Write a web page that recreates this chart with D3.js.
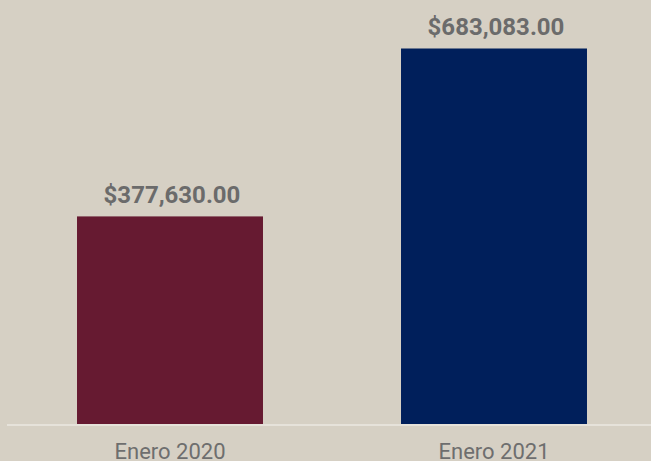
<!DOCTYPE html>
<html>
<head>
<meta charset="utf-8">
<script src="https://cdn.jsdelivr.net/npm/d3@7"></script>
<style>
	html, body { margin: 0; padding: 0; background: #d6d0c4; }
	svg { display: block; font-family: Roboto, sans-serif; }
</style>
</head>
<body>
<svg id="chart" width="651" height="461"></svg>
<script>
const categories = ['Enero 2020', 'Enero 2021'];
const values = [377630, 683083];
const barColors = ['#661a31', '#001f5b'];

const W = 651, H = 461;
const svg = d3.select('#chart');
const fmt = d3.format('$,.2f');

svg.append('rect')
	.attr('width', W)
	.attr('height', H)
	.attr('fill', '#d6d0c4');

const x = d3.scaleBand()
	.domain(categories)
	.range([8, 656])
	.paddingInner(0.426)
	.paddingOuter(0.213);

const y = d3.scaleLinear()
	.domain([0, 700000])
	.range([424, 39.2]);

// bars
svg.append('g')
	.selectAll('rect')
	.data(values)
	.enter()
	.append('rect')
		.attr('x', (d, i) => x(categories[i]))
		.attr('y', d => y(d))
		.attr('width', x.bandwidth())
		.attr('height', d => y(0) - y(d))
		.attr('fill', (d, i) => barColors[i]);

// baseline
svg.append('line')
	.attr('x1', 7)
	.attr('x2', W)
	.attr('y1', y(0) + 1)
	.attr('y2', y(0) + 1)
	.attr('stroke', '#e6e2da')
	.attr('stroke-width', 2);

// value labels
svg.append('g')
	.selectAll('text')
	.data(values)
	.enter()
	.append('text')
		.attr('x', (d, i) => x(categories[i]) + x.bandwidth() / 2 + 2)
		.attr('y', d => y(d) - 13)
		.attr('text-anchor', 'middle')
		.attr('fill', '#6b6b6b')
		.attr('font-size', 24)
		.attr('font-weight', 'bold')
		.text(d => fmt(d));

// x axis
const xAxis = svg.append('g')
	.attr('transform', `translate(0,${y(0)})`)
	.call(d3.axisBottom(x).tickSize(0).tickPadding(19));
xAxis.select('.domain').remove();
xAxis.selectAll('text')
	.attr('fill', '#6e6e6e')
	.attr('font-size', 22)
	.attr('font-family', 'Roboto, sans-serif');
</script>
</body>
</html>
